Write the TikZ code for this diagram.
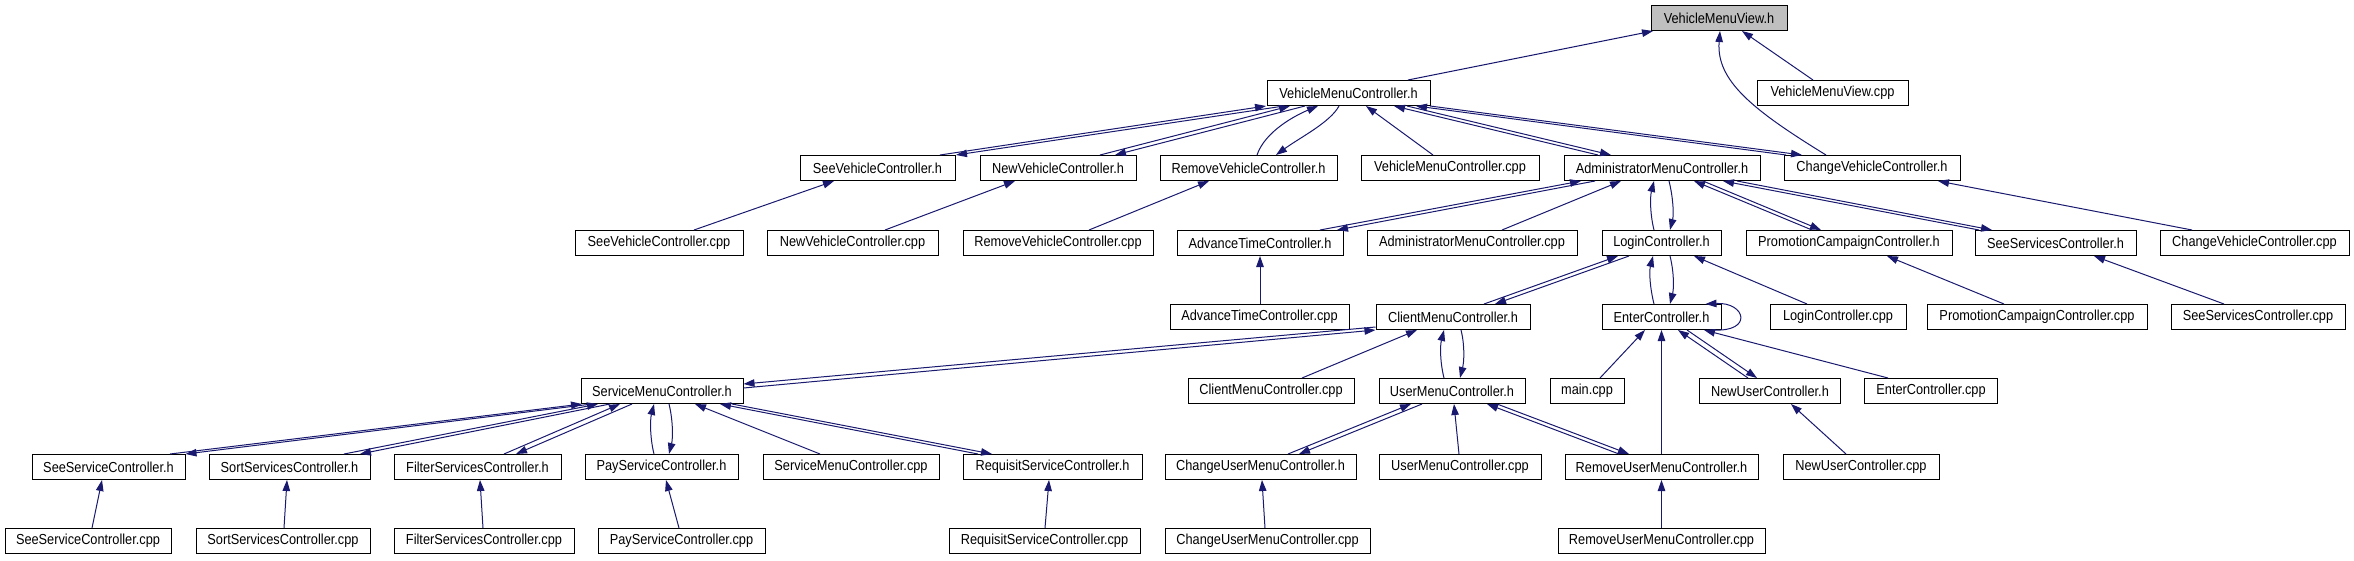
\documentclass[tikz,border=0pt]{standalone}
\usepackage{fontspec}
\setmainfont[FakeStretch=0.88]{Liberation Sans}
\usetikzlibrary{arrows.meta}
\definecolor{edgeblue}{HTML}{191970}
\definecolor{rootgray}{HTML}{BFBFBF}
\newcommand{\bx}[5]{\node[box,minimum width=#4pt] (#1) at (#2,#3) {#5};}
\newcommand{\sedge}[4]{\draw[edge] ([xshift=#2]#1.north) -- ([xshift=#4]#3.south);}
\newcommand{\dedge}[6]{\draw[edge] ([xshift=#2]#1.north) -- ([xshift=#4]#3.south);
  \draw[edge] ([xshift=#5]#3.south) -- ([xshift=#6]#1.north);}
\newcommand{\ledge}[6]{\draw[edge] ([xshift=#2]#1.north) .. controls +(-4,-16) and +(-4,16) .. ([xshift=#4]#3.south);
  \draw[edge] ([xshift=#5]#3.south) .. controls +(4,16) and +(4,-16) .. ([xshift=#6]#1.north);}
\begin{document}
\begin{tikzpicture}[x=1pt,y=-1pt,
  box/.style={draw=black,line width=1pt,fill=white,minimum height=25pt,inner sep=0pt,font=\fontsize{14.5}{16}\selectfont},
  edge/.style={draw=edgeblue,line width=1pt,-{Triangle[length=11pt,width=7.5pt]}}]
\useasboundingbox[fill=white] (0,0) rectangle (2354,560);
% row 0
\node[box,minimum width=136pt,fill=rootgray] (vmvh) at (1719,18) {VehicleMenuView.h};
% row 1
\bx{vmch}{1348.5}{93}{163}{VehicleMenuController.h}
\bx{vmvcpp}{1832.5}{93}{151}{VehicleMenuView.cpp}
% row 2
\bx{svch}{877.5}{168}{155}{SeeVehicleController.h}
\bx{nvch}{1058}{168}{156}{NewVehicleController.h}
\bx{rvch}{1248.5}{168}{177}{RemoveVehicleController.h}
\bx{vmccpp}{1450}{168}{178}{VehicleMenuController.cpp}
\bx{amch}{1662}{168}{196}{AdministratorMenuController.h}
\bx{cvch}{1872}{168}{176}{ChangeVehicleController.h}
% row 3
\bx{svccpp}{659}{243}{168}{SeeVehicleController.cpp}
\bx{nvccpp}{852.5}{243}{171}{NewVehicleController.cpp}
\bx{rvccpp}{1058}{243}{190}{RemoveVehicleController.cpp}
\bx{atch}{1260}{243}{166}{AdvanceTimeController.h}
\bx{amccpp}{1472}{243}{210}{AdministratorMenuController.cpp}
\bx{lch}{1661.5}{243}{119}{LoginController.h}
\bx{pcch}{1849}{243}{206}{PromotionCampaignController.h}
\bx{sssch}{2055.5}{243}{161}{SeeServicesController.h}
\bx{cvccpp}{2254.5}{243}{189}{ChangeVehicleController.cpp}
% row 4
\bx{atccpp}{1259.5}{317}{179}{AdvanceTimeController.cpp}
\bx{cmch}{1453}{317}{154}{ClientMenuController.h}
\bx{ech}{1661.5}{317}{119}{EnterController.h}
\bx{lccpp}{1838}{317}{136}{LoginController.cpp}
\bx{pcccpp}{2037}{317}{220}{PromotionCampaignController.cpp}
\bx{ssscpp}{2258}{317}{174}{SeeServicesController.cpp}
% row 5
\bx{smch}{662}{391}{162}{ServiceMenuController.h}
\bx{cmccpp}{1271}{391}{166}{ClientMenuController.cpp}
\bx{umch}{1452}{391}{146}{UserMenuController.h}
\bx{maincpp}{1587}{391}{74}{main.cpp}
\bx{nuch}{1770}{391}{141}{NewUserController.h}
\bx{eccpp}{1931}{391}{133}{EnterController.cpp}
% row 6
\bx{sesch}{108.5}{467}{153}{SeeServiceController.h}
\bx{sosch}{289.5}{467}{161}{SortServicesController.h}
\bx{fsch}{477.5}{467}{167}{FilterServicesController.h}
\bx{psch}{661.5}{467}{153}{PayServiceController.h}
\bx{smccpp}{851}{467}{176}{ServiceMenuController.cpp}
\bx{rsch}{1052.5}{467}{179}{RequisitServiceController.h}
\bx{cumch}{1260.5}{467}{191}{ChangeUserMenuController.h}
\bx{umccpp}{1460}{467}{162}{UserMenuController.cpp}
\bx{rumch}{1661.5}{467}{193}{RemoveUserMenuController.h}
\bx{nuccpp}{1861}{467}{156}{NewUserController.cpp}
% row 7
\bx{sesccpp}{88}{541}{166}{SeeServiceController.cpp}
\bx{sosccpp}{283}{541}{174}{SortServicesController.cpp}
\bx{fsccpp}{484}{541}{180}{FilterServicesController.cpp}
\bx{psccpp}{681.5}{541}{167}{PayServiceController.cpp}
\bx{rsccpp}{1044.5}{541}{191}{RequisitServiceController.cpp}
\bx{cumccpp}{1267.5}{541}{205}{ChangeUserMenuController.cpp}
\bx{rumccpp}{1661.5}{541}{207}{RemoveUserMenuController.cpp}
% single edges
\sedge{vmch}{59.5}{vmvh}{-66}
\sedge{vmvcpp}{-19.5}{vmvh}{23}
\draw[edge] ([xshift=-46]cvch.north) .. controls +(-74,-45.5) and +(-4,49.5) .. ([xshift=1]vmvh.south);
\sedge{vmccpp}{-17}{vmch}{17.5}
\sedge{svccpp}{35}{svch}{-43.5}
\sedge{nvccpp}{32.5}{nvch}{-43}
\sedge{rvccpp}{31}{rvch}{-39.5}
\sedge{amccpp}{30}{amch}{-41}
\sedge{cvccpp}{-62.5}{cvch}{66}
\sedge{atccpp}{0.5}{atch}{0}
\sedge{lccpp}{-31}{lch}{32.5}
\sedge{pcccpp}{-33}{pcch}{38}
\sedge{ssscpp}{-34}{sssch}{38.5}
\sedge{cmccpp}{31}{cmch}{-36}
\sedge{maincpp}{13}{ech}{-16.5}
\sedge{rumch}{0}{ech}{0}
\sedge{eccpp}{-43}{ech}{42.5}
\sedge{smccpp}{-31}{smch}{33}
\sedge{umccpp}{-1}{umch}{2}
\sedge{nuccpp}{-15}{nuch}{21}
\sedge{sesccpp}{4}{sesch}{-6.5}
\sedge{sosccpp}{1}{sosch}{-2.5}
\sedge{fsccpp}{-1}{fsch}{2.5}
\sedge{psccpp}{-2.5}{psch}{4.5}
\sedge{rsccpp}{0.5}{rsch}{-3.5}
\sedge{cumccpp}{-2.5}{cumch}{1.5}
\sedge{rumccpp}{0}{rumch}{0}
% double edges
\dedge{svch}{62.5}{vmch}{-82.5}{-64.5}{78.5}
\dedge{nvch}{42}{vmch}{-58.5}{-43.5}{57}
\draw[edge] ([xshift=8.5]rvch.north) .. controls +(8,-23.5) and +(-23,9.5) .. ([xshift=-30.5]vmch.south);
\draw[edge] ([xshift=-9.5]vmch.south) .. controls +(-9,16.5) and +(24,-17.5) .. ([xshift=27.5]rvch.north);
\dedge{amch}{-64}{vmch}{45.5}{58.5}{-51}
\dedge{cvch}{-86}{vmch}{67.5}{81.5}{-70}
\dedge{atch}{60}{amch}{-81}{-67}{77}
\ledge{lch}{-7.5}{amch}{-8}{7}{8.5}
\dedge{pcch}{-37}{amch}{32}{41}{-28}
\dedge{sssch}{-76.5}{amch}{61}{75}{-63.5}
\dedge{cmch}{31}{lch}{-43.5}{-32.5}{42}
\ledge{ech}{-7.5}{lch}{-8.5}{8.5}{8.5}
\draw[edge] ([xshift=52]ech.south) .. controls +(40,2) and +(40,-2) .. ([xshift=44]ech.north);
\draw[edge] ([yshift=3]smch.east) -- (cmch.south west);
\draw[edge] ([yshift=-10]cmch.west) -- ([yshift=7]smch.east);
\ledge{umch}{-8}{cmch}{-9}{8}{8}
\dedge{nuch}{-22}{ech}{16.5}{25.5}{-13}
\dedge{sesch}{61.5}{smch}{-80}{-70}{77}
\dedge{sosch}{54.5}{smch}{-64}{-52}{70.5}
\dedge{fsch}{26.5}{smch}{-42}{-30}{38.5}
\ledge{psch}{-7.5}{smch}{-8}{7}{7.5}
\dedge{rsch}{-74.5}{smch}{58}{70}{-60.5}
\dedge{cumch}{27.5}{umch}{-41}{-30}{38.5}
\dedge{rumch}{-42.5}{umch}{35}{45}{-32.5}
\end{tikzpicture}
\end{document}
